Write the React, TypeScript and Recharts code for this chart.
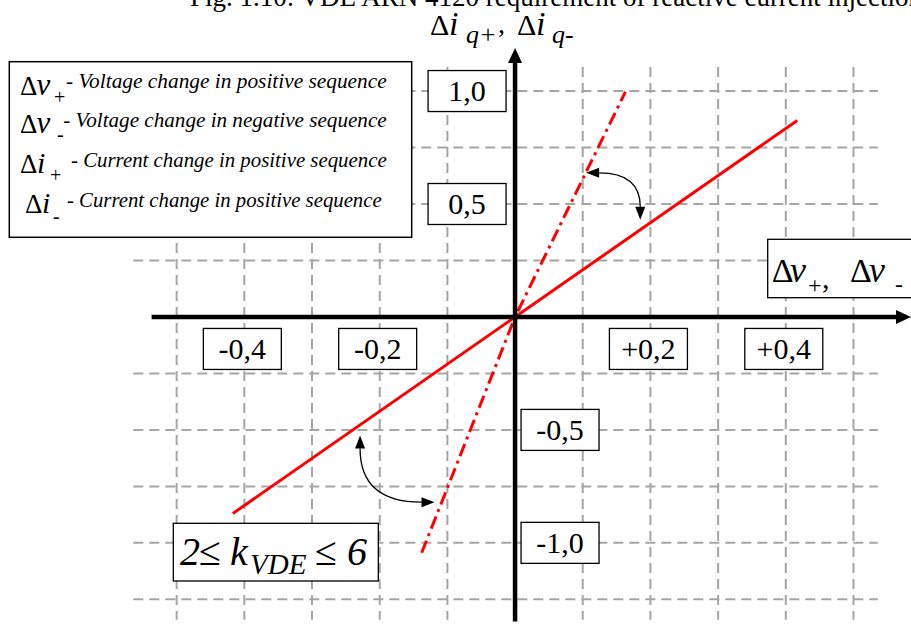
import React from "react";

import {
  Line,
  LineChart,
  ReferenceDot,
  ReferenceLine,
  XAxis,
  YAxis,
} from "recharts";

// Δv (p.u.) against Δi (p.u.) for the two limit gradients
const voltageK2 = [-0.417, 0, 0.417];
const currentK2 = [-0.87, 0, 0.87];
const voltageK6 = [-0.138, 0, 0.163];
const currentK6 = [-1.044, 0, 0.996];

const gridX = [-0.5, -0.4, -0.3, -0.2, -0.1, 0, 0.1, 0.2, 0.3, 0.4, 0.5];
const gridY = [1, 0.75, 0.5, 0.25, -0.25, -0.5, -0.75, -1, -1.25];

const xTicks = [-0.4, -0.2, 0.2, 0.4];
const xTickLabels = ["-0,4", "-0,2", "+0,2", "+0,4"];
const yTicks = [1, 0.5, -0.5, -1];
const yTickLabels = ["1,0", "0,5", "-0,5", "-1,0"];

// curved arrows between the two gradients: [vertical end, horizontal end]
const angleMarks = [
  [
    { x: 0.185, y: 0.43 },
    { x: 0.105, y: 0.638 },
  ],
  [
    { x: -0.229, y: -0.525 },
    { x: -0.119, y: -0.82 },
  ],
];

const X_DOMAIN = [-0.761, 0.585];
const Y_DOMAIN = [-1.368, 1.403];

const SERIF = "'Liberation Serif', 'Times New Roman', serif";
const RED = "#ff0000";
const GRID = "#a6a6a6";

const k2Data = voltageK2.map((x, i) => ({ x, y: currentK2[i] }));
const k6Data = voltageK6.map((x, i) => ({ x, y: currentK6[i] }));

const ArrowAxis = (props: any) => {
  const { x1, y1, x2, y2 } = props;
  const len = Math.hypot(x2 - x1, y2 - y1);
  const ux = (x2 - x1) / len;
  const uy = (y2 - y1) / len;
  const head = 15;
  const half = 7;
  const bx = x2 - ux * head;
  const by = y2 - uy * head;
  return (
    <g>
      <line
        x1={x1}
        y1={y1}
        x2={bx + ux}
        y2={by + uy}
        stroke="#000"
        strokeWidth={4.5}
      />
      <polygon
        points={`${x2},${y2} ${bx - uy * half},${by + ux * half} ${
          bx + uy * half
        },${by - ux * half}`}
        fill="#000"
      />
    </g>
  );
};

const AngleArc = (props: any) => {
  const { x1, y1, x2, y2 } = props;
  const L = 13;
  const W = 5;
  const d1 = Math.sign(y1 - y2);
  const d2 = Math.sign(x2 - x1);
  const s1y = y1 - d1 * L;
  const s2x = x2 - d2 * L;
  return (
    <g>
      <path
        d={`M${x1},${s1y} Q${x1},${y2} ${s2x},${y2}`}
        fill="none"
        stroke="#000"
        strokeWidth={1.3}
      />
      <polygon
        points={`${x1},${y1} ${x1 - W},${s1y} ${x1 + W},${s1y}`}
        fill="#000"
      />
      <polygon
        points={`${x2},${y2} ${s2x},${y2 - W} ${s2x},${y2 + W}`}
        fill="#000"
      />
    </g>
  );
};

const tickBox = (text: string, dx: number, dy: number) => (props: any) => {
  const cx = props.cx + dx;
  const cy = props.cy + dy;
  return (
    <g>
      <rect
        x={cx - 39}
        y={cy - 20.5}
        width={78}
        height={41}
        fill="#fff"
        stroke="#000"
        strokeWidth={1.3}
      />
      <text
        x={cx}
        y={cy + 10.3}
        textAnchor="middle"
        fontSize={30}
        fontFamily={SERIF}
        fill="#000"
      >
        {text}
      </text>
    </g>
  );
};

const Overlay = () => (
  <svg
    width={911}
    height={626}
    style={{ position: "absolute", left: 0, top: 0, pointerEvents: "none" }}
    fontFamily={SERIF}
  >
    <text x={190} y={6} fontSize={27}>
      Fig. 1.10: VDE ARN 4120 requirement of reactive current injection
    </text>

    {/* y axis title */}
    <text>
      <tspan x={430} y={35} fontSize={30}>Δ</tspan>
      <tspan x={449} y={35} fontSize={34} fontStyle="italic">i</tspan>
      <tspan x={466} y={43} fontSize={26} fontStyle="italic">q+</tspan>
      <tspan x={498} y={33} fontSize={28}>,</tspan>
      <tspan x={517} y={35} fontSize={30}>Δ</tspan>
      <tspan x={536} y={35} fontSize={34} fontStyle="italic">i</tspan>
      <tspan x={552} y={43} fontSize={26} fontStyle="italic">q-</tspan>
    </text>

    {/* symbol legend */}
    <rect
      x={9.3}
      y={61.7}
      width={402.4}
      height={175.6}
      fill="#fff"
      stroke="#000"
      strokeWidth={1.5}
    />
    <text>
      <tspan x={20} y={95} fontSize={27}>Δ</tspan>
      <tspan x={36.5} y={95} fontSize={31} fontStyle="italic">v</tspan>
      <tspan x={54} y={104} fontSize={20}>+</tspan>
    </text>
    <text x={66} y={88} fontSize={21} fontStyle="italic" textLength={320.7} lengthAdjust="spacingAndGlyphs">
      - Voltage change in positive sequence
    </text>

    <text>
      <tspan x={20} y={133.3} fontSize={27}>Δ</tspan>
      <tspan x={36.5} y={133.3} fontSize={31} fontStyle="italic">v</tspan>
      <tspan x={57} y={141} fontSize={20}>-</tspan>
    </text>
    <text x={63.3} y={126.7} fontSize={21} fontStyle="italic" textLength={323.4} lengthAdjust="spacingAndGlyphs">
      - Voltage change in negative sequence
    </text>

    <text>
      <tspan x={20} y={173.3} fontSize={27}>Δ</tspan>
      <tspan x={37} y={173.3} fontSize={30} fontStyle="italic">i</tspan>
      <tspan x={50} y={182} fontSize={20}>+</tspan>
    </text>
    <text x={71} y={166.7} fontSize={21} fontStyle="italic" textLength={315.7} lengthAdjust="spacingAndGlyphs">
      - Current change in positive sequence
    </text>

    <text>
      <tspan x={25} y={213.3} fontSize={27}>Δ</tspan>
      <tspan x={42} y={213.3} fontSize={30} fontStyle="italic">i</tspan>
      <tspan x={53} y={223} fontSize={20}>-</tspan>
    </text>
    <text x={67} y={206.7} fontSize={21} fontStyle="italic" textLength={314.7} lengthAdjust="spacingAndGlyphs">
      - Current change in positive sequence
    </text>

    {/* x axis title */}
    <rect
      x={767.7}
      y={239.3}
      width={160}
      height={58.4}
      fill="#fff"
      stroke="#000"
      strokeWidth={1.3}
    />
    <text>
      <tspan x={771.7} y={281.7} fontSize={34}>Δ</tspan>
      <tspan x={790} y={281.7} fontSize={36} fontStyle="italic">v</tspan>
      <tspan x={808} y={293} fontSize={24}>+</tspan>
      <tspan x={822} y={288} fontSize={30}>,</tspan>
      <tspan x={850} y={281.7} fontSize={34}>Δ</tspan>
      <tspan x={869} y={281.7} fontSize={36} fontStyle="italic">v</tspan>
      <tspan x={895} y={292} fontSize={24}>-</tspan>
    </text>

    {/* gradient range */}
    <rect
      x={173.3}
      y={523.3}
      width={205}
      height={57.7}
      fill="#fff"
      stroke="#000"
      strokeWidth={1.3}
    />
    <text>
      <tspan x={180} y={565} fontSize={40} fontStyle="italic">2</tspan>
      <tspan x={199} y={565} fontSize={40}>≤</tspan>
      <tspan x={230} y={565} fontSize={40} fontStyle="italic">k</tspan>
      <tspan x={250} y={574} fontSize={29} fontStyle="italic">VDE</tspan>
      <tspan x={315} y={565} fontSize={40}>≤</tspan>
      <tspan x={347} y={565} fontSize={40} fontStyle="italic">6</tspan>
    </text>
  </svg>
);

export default function App() {
  return (
    <div
      style={{
        position: "absolute",
        left: 0,
        top: 0,
        width: 911,
        height: 626,
        background: "#fff",
      }}
    >
      <LineChart
        width={911}
        height={626}
        margin={{ top: 0, right: 0, bottom: 0, left: 0 }}
      >
        <XAxis
          type="number"
          dataKey="x"
          domain={X_DOMAIN}
          allowDataOverflow
          hide
        />
        <YAxis type="number" domain={Y_DOMAIN} allowDataOverflow hide />

        {gridY.map(v => (
          <ReferenceLine
            key={"gy" + v}
            segment={[
              { x: -0.564, y: v },
              { x: 0.536, y: v },
            ]}
            stroke={GRID}
            strokeWidth={2}
            strokeDasharray="10 6"
            ifOverflow="visible"
          />
        ))}
        {gridX.map(v => (
          <ReferenceLine
            key={"gx" + v}
            segment={[
              { x: v, y: 1.106 },
              { x: v, y: -1.34 },
            ]}
            stroke={GRID}
            strokeWidth={2}
            strokeDasharray="10 6"
            ifOverflow="visible"
          />
        ))}

        <Line
          data={k2Data}
          dataKey="y"
          stroke={RED}
          strokeWidth={3}
          dot={false}
          activeDot={false}
          isAnimationActive={false}
        />
        <Line
          data={k6Data}
          dataKey="y"
          stroke={RED}
          strokeWidth={3}
          strokeDasharray="13 5 3 5"
          dot={false}
          activeDot={false}
          isAnimationActive={false}
        />

        <ReferenceLine
          segment={[
            { x: -0.537, y: 0 },
            { x: 0.585, y: 0 },
          ]}
          shape={ArrowAxis}
          ifOverflow="visible"
        />
        <ReferenceLine
          segment={[
            { x: 0, y: -1.348 },
            { x: 0, y: 1.19 },
          ]}
          shape={ArrowAxis}
          ifOverflow="visible"
        />

        {angleMarks.map((m, i) => (
          <ReferenceLine
            key={"arc" + i}
            segment={m}
            shape={AngleArc}
            ifOverflow="visible"
          />
        ))}

        {xTicks.map((v, i) => (
          <ReferenceDot
            key={"xt" + v}
            x={v}
            y={0}
            r={1}
            shape={tickBox(xTickLabels[i], -2, 32)}
            ifOverflow="visible"
          />
        ))}
        {yTicks.map((v, i) => (
          <ReferenceDot
            key={"yt" + v}
            x={0}
            y={v}
            r={1}
            shape={tickBox(yTickLabels[i], v > 0 ? -48 : 45, 0)}
            ifOverflow="visible"
          />
        ))}
      </LineChart>
      <Overlay />
    </div>
  );
}
